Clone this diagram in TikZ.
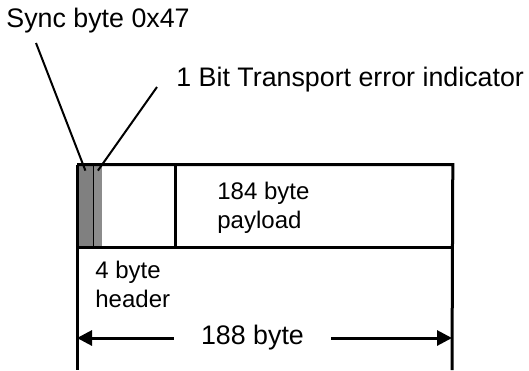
\documentclass[tikz,border=0pt]{standalone}
\usepackage{fontspec}
\setmainfont{Liberation Sans}
\usetikzlibrary{positioning,arrows.meta,calc}
\definecolor{syncgray}{RGB}{128,128,128}
\definecolor{teigray}{RGB}{140,140,140}

\begin{document}
\begin{tikzpicture}[x=0.5pt,y=-0.5pt,>={Triangle[length=7.5pt,width=7.5pt]},
  fld/.style={inner sep=0pt,minimum height=41pt,anchor=west},
  lab/.style={font=\fontsize{13.4}{15}\selectfont,inner sep=0pt},
  inlab/.style={font=\fontsize{12}{14.5}\selectfont,align=left,inner sep=0pt},
  lead/.style={line width=1pt},
  edge/.style={line width=1.5pt}]
\useasboundingbox (0,0) rectangle (529,370);
% TS packet fields
\node[fld,fill=syncgray,minimum width=8pt] (sync) at (77,206) {};
\node[fld,fill=teigray,minimum width=4.5pt] (tei) at (93,206) {};
\node[fld,minimum width=36.5pt] (hdr) at (102,206) {};
\node[fld,minimum width=138.5pt] (pay) at (175,206) {};
\draw[line width=0.5pt] (sync.north east)--(sync.south east);
\draw[edge] (pay.north west)--(pay.south west);
% extension lines below the packet
\coordinate (lb) at (77,370);
\coordinate (rb) at (452,370);
\draw[edge] (sync.north west)--(pay.north east)--(rb);
\draw[edge] (pay.south east)--(sync.south west)--(sync.north west);
\draw[edge] (sync.south west)--(lb);
% texts
\node[inlab,anchor=base west] (paytxt) at (217,228) {184 byte\\payload};
\node[inlab,anchor=base west] (hdrtxt) at (95,307) {4 byte\\header};
\node[lab,anchor=base west] (synctxt) at (6,27) {Sync byte 0x47};
\node[lab,anchor=base west] (teitxt) at (176,86) {1 Bit Transport error indicator};
% leader lines
\coordinate (s0) at (36,43);
\coordinate (t0) at (157,87);
\draw[lead] (s0)--([yshift=-3pt]sync.north);
\draw[lead] (t0)--([yshift=-3pt]tei.north);
% packet length
\node[lab,inner xsep=13.5pt] (len) at (252.5,338) {188 byte};
\draw[edge,->] (len.west)--(len.west -| lb);
\draw[edge,->] (len.east)--(len.east -| rb);
\end{tikzpicture}
\end{document}
